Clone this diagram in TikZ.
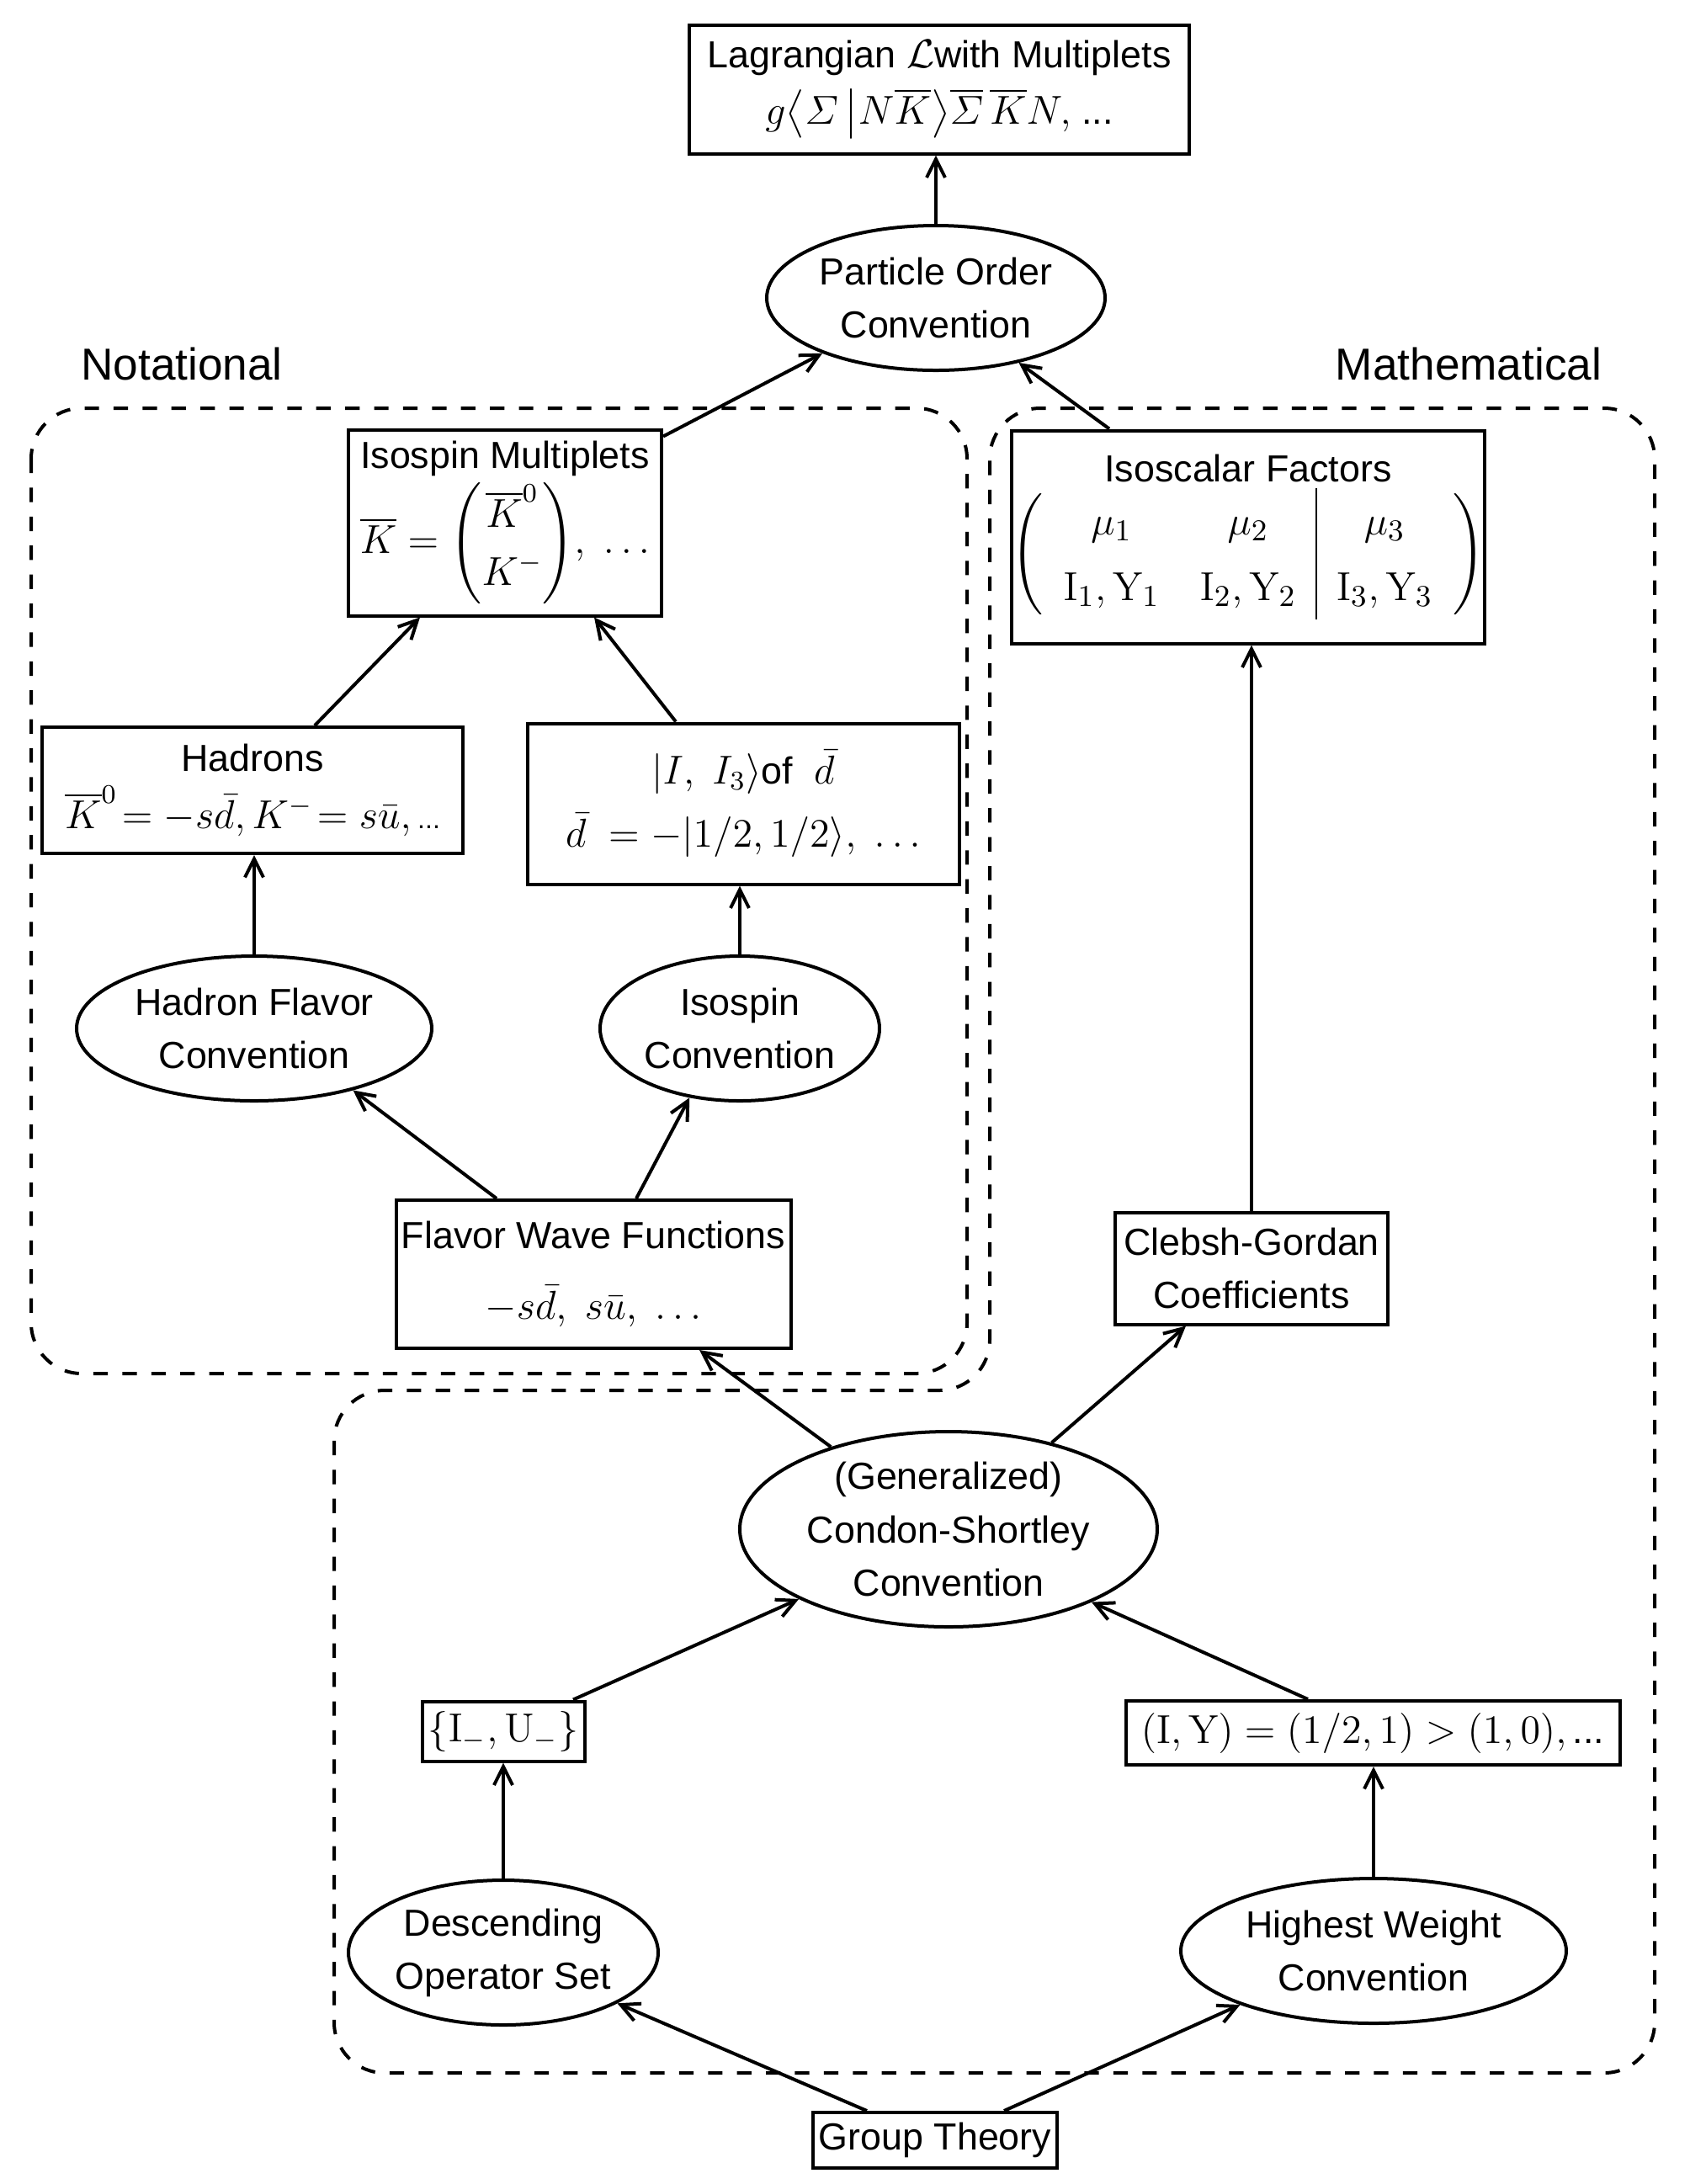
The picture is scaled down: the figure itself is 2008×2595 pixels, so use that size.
\documentclass[tikz,border=0pt]{standalone}
\usepackage{amsmath}
\usepackage[no-math]{fontspec}
\newfontfamily\lsans{Liberation Sans}
\usetikzlibrary{arrows.meta,calc,shapes.geometric}
\newcommand{\mm}[1]{{\fontsize{12}{15}\selectfont$#1$}}
\begin{document}
\begin{tikzpicture}[x=0.25pt,y=-0.25pt, line width=1pt,
  every node/.style={font=\lsans\fontsize{11.2}{15.8}\selectfont},
  bx/.style={draw, rectangle, inner sep=0pt, align=center},
  el/.style={draw, ellipse, inner sep=0pt, align=center},
  arr/.style={-{Straight Barb[length=5.5pt,width=5.5pt]}},
  dsh/.style={dash pattern=on 4.3pt off 4.3pt, rounded corners=15pt},
  lbl/.style={font=\lsans\fontsize{13.3}{16}\selectfont}]
\path[use as bounding box] (0,0) rectangle (2008,2595);

% dashed regions
\draw[dsh] (37,485) rectangle (1149,1632);
\draw[dsh] (1500,485) -- (1966,485) -- (1966,2463) -- (397,2463) -- (397,1652) -- (1176,1652) -- (1176,485) -- cycle;

\node[lbl] (notl) at (216,432) {Notational};
\node[lbl] (matl) at (1745,432) {Mathematical};

% nodes
\node[bx, minimum width=148.5pt, minimum height=38.25pt] (lag) at (1116,106)
  {Lagrangian \mm{\mathcal{L}}with Multiplets\\[1pt]
   {\fontsize{13}{15}\selectfont$g\big\langle\varSigma\,\big|N\overline{K}\big\rangle\overline{\varSigma}\,\overline{K}N,$}\ ...};
\node[el, minimum width=100.5pt, minimum height=43pt] (poc) at (1112,354) {Particle Order\\Convention};
\node[bx, minimum width=93pt, minimum height=55.25pt] (isomult) at (600,621)
  {Isospin Multiplets\\[1pt]
   \mm{\overline{K}=\renewcommand{\arraystretch}{1.15}\begin{pmatrix}\overline{K}^0\\ K^-\end{pmatrix}\!,\ \ldots}};
\node[bx, minimum width=139.25pt, minimum height=63.25pt] (isf) at (1483,638)
  {Isoscalar Factors\\[1pt]
   {\fontsize{13}{15}\selectfont\renewcommand{\arraystretch}{1.3}\setlength{\arraycolsep}{6pt}$\left(\begin{array}{cc|c}\mu_1 & \mu_2 & \mu_3\\
     \mathrm{I}_1,\mathrm{Y}_1 & \mathrm{I}_2,\mathrm{Y}_2 & \mathrm{I}_3,\mathrm{Y}_3\end{array}\right)$}};
\node[bx, minimum width=125pt, minimum height=37.5pt] (hadrons) at (300,939)
  {Hadrons\\[1pt]
   \mm{\overline{K}^0\!=-s\bar{d},K^-\!=s\bar{u},}\,{\fontsize{8}{10}\selectfont ...}};
\node[bx, minimum width=128.25pt, minimum height=47.75pt] (ket) at (883,955)
  {\mm{|I,\ I_3\rangle}of\ \ \mm{\bar{d}}\\[3pt]
   \mm{\bar{d}\ =-|1/2,1/2\rangle,\ \ldots}};
\node[el, minimum width=105.5pt, minimum height=43pt] (hfc) at (302,1222) {Hadron Flavor\\Convention};
\node[el, minimum width=83pt, minimum height=43pt] (isc) at (879,1222) {Isospin\\Convention};
\node[bx, minimum width=117.25pt, minimum height=44pt] (fwf) at (705,1514)
  {Flavor Wave Functions\\[5pt]
   \mm{-s\bar{d},\ s\bar{u},\ \ldots}};
\node[bx, minimum width=81pt, minimum height=33.25pt] (cg) at (1487,1507) {Clebsh-Gordan\\Coefficients};
\node[el, minimum width=124pt, minimum height=58pt] (cs) at (1127,1817) {(Generalized)\\Condon-Shortley\\Convention};
\node[bx, minimum width=48.25pt, minimum height=17.75pt] (ium) at (598,2057)
  {\mm{\{\mathrm{I}_-,\mathrm{U}_-\}}};
\node[bx, minimum width=146.75pt, minimum height=19pt] (iy) at (1631,2059)
  {\mm{(\mathrm{I},\mathrm{Y})=(1/2,1)>(1,0),}\,...};
\node[el, minimum width=92pt, minimum height=43pt] (dos) at (598,2320) {Descending\\Operator Set};
\node[el, minimum width=114.5pt, minimum height=43pt] (hwc) at (1632,2318) {Highest Weight\\Convention};
\node[bx, minimum width=72.5pt, minimum height=16.5pt] (gt) at (1111,2543) {Group Theory};

% arrows
\draw[arr] (poc.north) -- (poc.north |- lag.south);
\draw[arr] ($(isomult.north east)+(0,10)$) -- (poc.206.7);
\draw[arr] ($(isf.north)+(-165,0)$) -- (poc.322.3);
\draw[arr] ($(hadrons.north)+(74,0)$) -- ($(isomult.south)+(-101,0)$);
\draw[arr] ($(ket.north)+(-80,0)$) -- ($(isomult.south)+(106,0)$);
\draw[arr] (hfc.north) -- (hfc.north |- hadrons.south);
\draw[arr] (isc.north) -- (isc.north |- ket.south);
\draw[arr] ($(fwf.north)+(-115,0)$) -- (hfc.328.8);
\draw[arr] ($(fwf.north)+(51,0)$) -- (isc.234.4);
\draw[arr] (cg.north) -- (cg.north |- isf.south);
\draw[arr] (cs.145.9) -- ($(fwf.south)+(126,0)$);
\draw[arr] (cs.40) -- ($(cg.south)+(-78,0)$);
\draw[arr] ($(ium.north)+(83,0)$) -- (cs.205.3);
\draw[arr] ($(iy.north)+(-77,0)$) -- (cs.333.8);
\draw[arr] (dos.north) -- (dos.north |- ium.south);
\draw[arr] (hwc.north) -- (hwc.north |- iy.south);
\draw[arr] ($(gt.north)+(-81,0)$) -- (dos.336.8);
\draw[arr] ($(gt.north)+(82,0)$) -- (hwc.202.7);
\end{tikzpicture}
\end{document}
